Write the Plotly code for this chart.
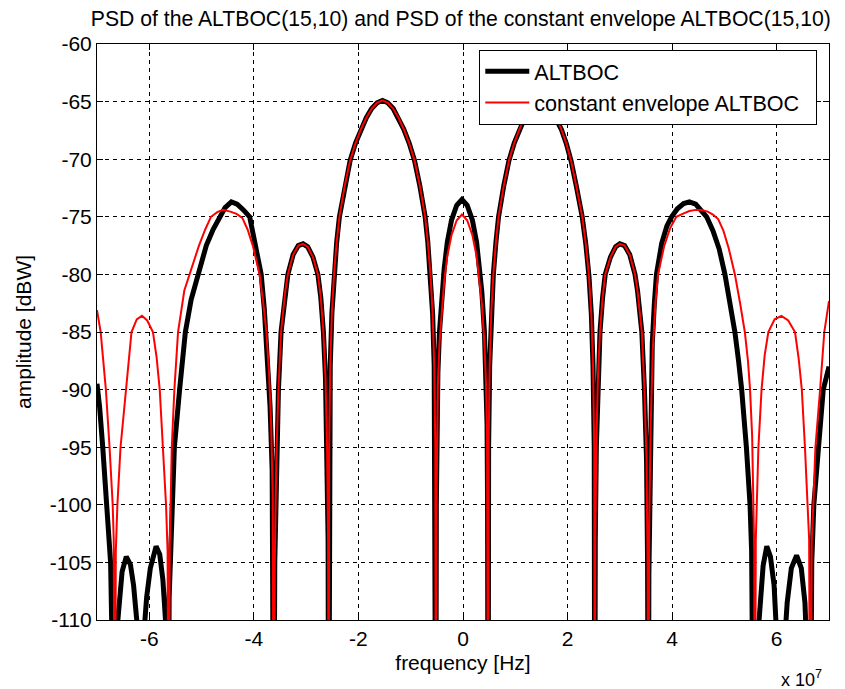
import plotly.graph_objects as go

# frequency in units of 1e7 Hz, PSD in dBW
altboc_freq = [
    -7.00, -6.95, -6.89, -6.81, -6.74, -6.72, -6.70, -6.68, -6.62, -6.58, -6.52, -6.44, -6.36, -6.30,
    -6.24, -6.21, -6.19, -6.17, -6.10, -6.05, -5.98, -5.87, -5.80, -5.74, -5.69, -5.66, -5.64, -5.62,
    -5.59, -5.56, -5.52, -5.42, -5.31, -5.20, -5.07, -4.91, -4.78, -4.66, -4.55, -4.43, -4.32, -4.20,
    -4.08, -3.97, -3.86, -3.80, -3.74, -3.69, -3.65, -3.63, -3.62, -3.60, -3.57, -3.53, -3.48, -3.40,
    -3.35, -3.25, -3.15, -3.06, -2.97, -2.87, -2.775, -2.72, -2.67, -2.63, -2.60, -2.58, -2.57, -2.56,
    -2.539, -2.508, -2.467, -2.416, -2.364, -2.261, -2.158, -2.055, -1.952, -1.849, -1.746, -1.643,
    -1.54, -1.438, -1.336, -1.234, -1.132, -1.03, -0.928, -0.826, -0.724, -0.673, -0.622, -0.581,
    -0.551, -0.53, -0.52, -0.51, -0.50, -0.48, -0.45, -0.40, -0.36, -0.30, -0.22, -0.12, -0.02, 0.08,
    0.18, 0.26, 0.32, 0.36, 0.41, 0.44, 0.46, 0.47, 0.48, 0.49, 0.51, 0.54, 0.58, 0.63, 0.68, 0.78,
    0.88, 0.98, 1.08, 1.18, 1.28, 1.38, 1.48, 1.58, 1.68, 1.78, 1.88, 1.98, 2.07, 2.17, 2.28, 2.35,
    2.41, 2.455, 2.487, 2.51, 2.52, 2.53, 2.55, 2.58, 2.62, 2.67, 2.72, 2.82, 2.92, 3.00, 3.09, 3.19,
    3.29, 3.34, 3.42, 3.47, 3.51, 3.53, 3.545, 3.555, 3.57, 3.59, 3.62, 3.66, 3.70, 3.80, 3.90, 3.99,
    4.10, 4.22, 4.33, 4.45, 4.56, 4.66, 4.78, 4.90, 5.01, 5.10, 5.20, 5.27, 5.33, 5.42, 5.49, 5.52,
    5.545, 5.56, 5.58, 5.63, 5.68, 5.74, 5.81, 5.88, 5.95, 6.00, 6.04, 6.07, 6.10, 6.15, 6.20, 6.28,
    6.38, 6.47, 6.54, 6.59, 6.62, 6.64, 6.67, 6.71, 6.79, 6.89, 7.00,
]
altboc_psd = [
    -89.5, -91.5, -95.0, -100.0, -105.0, -110.0, -128.0, -118.0, -111.0, -108.5, -105.8, -104.5, -105.2, -107.0,
    -110.0, -114.0, -128.0, -118.0, -111.0, -108.0, -105.5, -103.6, -104.3, -106.5, -110.0, -115.0, -128.0, -108.0,
    -103.0, -100.0, -95.0, -90.0, -85.0, -82.2, -80.0, -77.5, -76.1, -75.0, -74.2, -73.7, -73.9, -74.4,
    -75.0, -77.5, -80.0, -83.0, -87.0, -91.5, -97.0, -104.0, -128.0, -105.0, -96.0, -90.0, -85.0, -81.5,
    -80.0, -78.3, -77.5, -77.35, -77.6, -78.5, -80.0, -82.0, -85.0, -89.0, -95.0, -103.0, -128.0, -94.9,
    -87.9, -83.4, -80.0, -77.2, -75.0, -72.3, -70.1, -68.6, -67.4, -66.4, -65.6, -65.1,
    -64.9, -65.1, -65.6, -66.4, -67.4, -68.6, -70.1, -72.3, -75.0, -77.2, -80.0, -83.4,
    -87.9, -94.9, -128.0, -100.0, -93.0, -88.5, -85.0, -81.5, -79.5, -77.2, -75.3, -74.0, -73.5, -74.0,
    -75.3, -77.2, -79.5, -81.5, -85.0, -88.5, -93.0, -100.0, -128.0, -94.9, -87.9, -83.4, -80.0, -77.2, -75.0, -72.3,
    -70.1, -68.6, -67.4, -66.4, -65.6, -65.1, -64.9, -65.1, -65.6, -66.4, -67.4, -68.7, -70.2, -72.4, -75.0, -77.4,
    -80.2, -83.5, -88.0, -95.0, -128.0, -103.0, -95.0, -89.0, -85.0, -82.0, -80.0, -78.5, -77.6, -77.35, -77.5, -78.3,
    -80.0, -81.5, -85.0, -90.0, -96.0, -105.0, -128.0, -106.0, -99.0, -93.0, -86.0, -82.5, -80.0, -77.3, -75.8, -75.0,
    -74.3, -73.85, -73.7, -73.9, -74.4, -75.0, -76.2, -77.8, -80.0, -82.3, -85.0, -87.5, -90.0, -95.0, -100.0, -104.0,
    -110.0, -128.0, -120.0, -112.0, -108.5, -105.3, -103.6, -104.5, -107.0, -110.0, -115.0, -128.0, -120.0, -112.0, -108.5, -105.5,
    -104.4, -105.5, -108.5, -112.0, -118.0, -128.0, -105.0, -100.0, -95.0, -90.0, -88.0,
]

ce_freq = [
    -7.00, -6.93, -6.88, -6.83, -6.76, -6.70, -6.68, -6.66, -6.64, -6.61, -6.55, -6.44, -6.34, -6.24,
    -6.14, -6.04, -5.93, -5.86, -5.80, -5.74, -5.68, -5.65, -5.63, -5.61, -5.57, -5.52, -5.45, -5.33,
    -5.23, -5.05, -4.93, -4.82, -4.70, -4.59, -4.45, -4.33, -4.22, -4.12, -4.02, -3.89, -3.82, -3.76,
    -3.71, -3.67, -3.64, -3.62, -3.60, -3.57, -3.53, -3.48, -3.40, -3.35, -3.25, -3.15, -3.06, -2.97,
    -2.87, -2.775, -2.72, -2.67, -2.63, -2.60, -2.58, -2.57, -2.56, -2.539, -2.508, -2.467, -2.416, -2.364,
    -2.261, -2.158, -2.055, -1.952, -1.849, -1.746, -1.643, -1.54, -1.438, -1.336, -1.234, -1.132, -1.03,
    -0.928, -0.826, -0.724, -0.673, -0.622, -0.581, -0.551, -0.53, -0.52, -0.51, -0.50, -0.48, -0.45, -0.40,
    -0.36, -0.30, -0.22, -0.12, -0.02, 0.08, 0.18, 0.26, 0.32, 0.36, 0.41, 0.44, 0.46, 0.47, 0.48, 0.49,
    0.51, 0.54, 0.58, 0.63, 0.68, 0.78, 0.88, 0.98, 1.08, 1.18, 1.28, 1.38, 1.48, 1.58, 1.68, 1.78,
    1.88, 1.98, 2.07, 2.17, 2.28, 2.35, 2.41, 2.455, 2.487, 2.51, 2.52, 2.53, 2.55, 2.58, 2.62, 2.67,
    2.72, 2.82, 2.92, 3.00, 3.09, 3.19, 3.29, 3.34, 3.42, 3.47, 3.51, 3.53, 3.545, 3.56, 3.59, 3.63,
    3.68, 3.73, 3.85, 3.96, 4.08, 4.20, 4.33, 4.45, 4.56, 4.68, 4.78, 4.88, 4.98, 5.08, 5.20, 5.30,
    5.39, 5.45, 5.49, 5.53, 5.56, 5.57, 5.58, 5.60, 5.65, 5.71, 5.77, 5.84, 5.96, 6.09, 6.22, 6.35,
    6.42, 6.48, 6.54, 6.59, 6.62, 6.64, 6.67, 6.70, 6.74, 6.83, 6.91, 7.00,
]
ce_psd = [
    -83.1, -85.0, -87.5, -90.0, -95.0, -100.0, -103.0, -128.0, -104.0, -100.0, -95.0, -90.0, -85.0, -83.9,
    -83.6, -84.0, -85.0, -87.2, -90.0, -95.0, -100.0, -104.0, -128.0, -104.0, -95.0, -90.0, -85.0, -81.4,
    -80.0, -77.5, -76.1, -75.0, -74.6, -74.4, -74.55, -74.75, -75.1, -76.1, -77.5, -80.0, -82.5, -85.0,
    -88.5, -93.0, -99.0, -128.0, -105.0, -96.0, -90.0, -85.0, -81.5, -80.0, -78.3, -77.5, -77.35, -77.6,
    -78.5, -80.0, -82.0, -85.0, -89.0, -95.0, -103.0, -128.0, -94.9, -87.9, -83.4, -80.0, -77.2, -75.0,
    -72.3, -70.1, -68.6, -67.4, -66.4, -65.6, -65.1, -64.9, -65.1, -65.6, -66.4, -67.4, -68.6,
    -70.1, -72.3, -75.0, -77.2, -80.0, -83.4, -87.9, -94.9, -128.0, -101.0, -94.0, -89.5, -86.0, -82.5,
    -80.6, -78.4, -76.6, -75.3, -74.8, -75.3, -76.6, -78.4, -80.6, -82.5, -86.0, -89.5, -94.0, -101.0, -128.0, -94.9,
    -87.9, -83.4, -80.0, -77.2, -75.0, -72.3, -70.1, -68.6, -67.4, -66.4, -65.6, -65.1, -64.9, -65.1, -65.6, -66.4,
    -67.4, -68.7, -70.2, -72.4, -75.0, -77.4, -80.2, -83.5, -88.0, -95.0, -128.0, -103.0, -95.0, -89.0, -85.0, -82.0,
    -80.0, -78.5, -77.6, -77.35, -77.5, -78.3, -80.0, -81.5, -85.0, -90.0, -96.0, -105.0, -128.0, -102.0, -93.0, -86.5,
    -82.5, -80.0, -77.5, -76.0, -75.0, -74.75, -74.5, -74.4, -74.4, -74.55, -74.8, -75.2, -76.2, -77.7, -80.0, -82.5,
    -85.0, -87.5, -90.0, -94.0, -100.0, -104.0, -128.0, -103.0, -95.0, -90.0, -87.0, -85.0, -83.9, -83.6, -84.0, -85.0,
    -87.3, -90.0, -95.0, -100.0, -103.0, -128.0, -103.0, -100.0, -95.0, -90.0, -85.0, -82.3,
]

x_tick_vals = [-6, -4, -2, 0, 2, 4, 6]
x_tick_text = ["-6", "-4", "-2", "0", "2", "4", "6"]
y_tick_vals = [-110, -105, -100, -95, -90, -85, -80, -75, -70, -65, -60]
y_tick_text = ["-110", "-105", "-100", "-95", "-90", "-85", "-80", "-75", "-70", "-65", "-60"]
legend_names = ["ALTBOC", "constant envelope ALTBOC\u00a0\u00a0"]

FONT = "Liberation Sans, Arial, sans-serif"
FS = 21

fig = go.Figure()
fig.add_trace(go.Scatter(x=altboc_freq, y=altboc_psd, mode="lines", name=legend_names[0],
                         line=dict(color="black", width=5)))
fig.add_trace(go.Scatter(x=ce_freq, y=ce_psd, mode="lines", name=legend_names[1],
                         line=dict(color="#ff0000", width=2)))

axis_common = dict(showline=True, linecolor="black", linewidth=1, mirror="ticks",
                   ticks="inside", ticklen=6, tickcolor="black",
                   showgrid=True, gridcolor="black", gridwidth=1, griddash="4px,4px",
                   zeroline=False, tickfont=dict(family=FONT, size=FS, color="black"))

fig.update_xaxes(range=[-7, 7], tickvals=x_tick_vals, ticktext=x_tick_text,
                 title=dict(text="frequency [Hz]", font=dict(family=FONT, size=FS, color="black"), standoff=6),
                 **axis_common)
fig.update_yaxes(range=[-110, -60], tickvals=y_tick_vals, ticktext=y_tick_text,
                 title=dict(text="amplitude [dBW]", font=dict(family=FONT, size=FS, color="black"), standoff=12),
                 **axis_common)

# the page body adds an 8px offset; the figure is sized so the plot area lands where the reference's does
fig.update_layout(
    width=837, height=681,
    margin=dict(l=89, r=16, t=36, b=69, autoexpand=False),
    paper_bgcolor="white", plot_bgcolor="white",
    title=dict(text="PSD of the ALTBOC(15,10) and PSD of the constant envelope ALTBOC(15,10)",
               font=dict(family=FONT, size=21.2, color="black"),
               x=0.497, xref="paper", xanchor="center", y=0.985, yref="container", yanchor="middle"),
    legend=dict(x=0.984, y=0.99, xanchor="right", yanchor="top",
                bgcolor="white", bordercolor="black", borderwidth=1, itemwidth=44,
                font=dict(family=FONT, size=21.6, color="black"), tracegroupgap=0),
    showlegend=True,
    annotations=[dict(text="x 10<sup>7</sup>", xref="paper", yref="paper", x=0.932, y=-0.125,
                      xanchor="left", yanchor="bottom", showarrow=False,
                      font=dict(family=FONT, size=18, color="black"))],
)

fig.write_html("out.html")
